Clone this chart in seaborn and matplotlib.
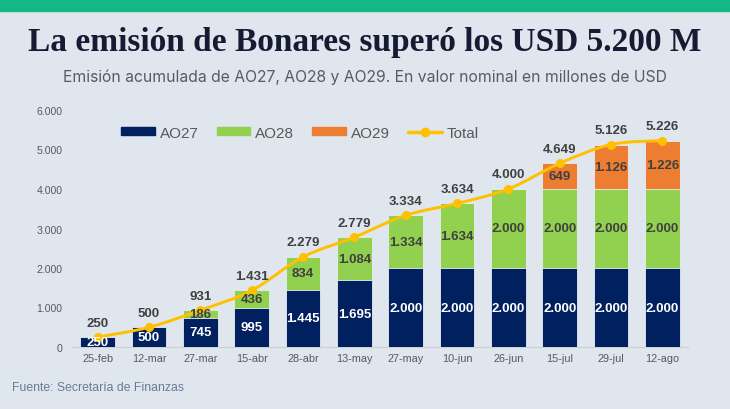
import matplotlib
matplotlib.use("Agg")
import matplotlib.pyplot as plt
import seaborn as sns
import pandas as pd
from matplotlib.patches import Patch, Rectangle, PathPatch
from matplotlib.lines import Line2D
from matplotlib.path import Path

categories = ["25-feb", "12-mar", "27-mar", "15-abr", "28-abr", "13-may",
              "27-may", "10-jun", "26-jun", "15-jul", "29-jul", "12-ago"]
ao27 = [250, 500, 745, 995, 1445, 1695, 2000, 2000, 2000, 2000, 2000, 2000]
ao28 = [0, 0, 186, 436, 834, 1084, 1334, 1634, 2000, 2000, 2000, 2000]
ao29 = [0, 0, 0, 0, 0, 0, 0, 0, 0, 649, 1126, 1226]
yticks = [0, 1000, 2000, 3000, 4000, 5000, 6000]

title = "La emisión de Bonares superó los USD 5.200 M"
subtitle = "Emisión acumulada de AO27, AO28 y AO29. En valor nominal en millones de USD"
source = "Fuente: Secretaría de Finanzas"

C27, C28, C29, CT = "#002060", "#92D050", "#ED7D31", "#FFC000"
BG = "#dfe6ee"
SANS = "Liberation Sans"

df = pd.DataFrame({"fecha": categories, "AO27": ao27, "AO28": ao28, "AO29": ao29})
df["s2"] = df["AO27"] + df["AO28"]
df["Total"] = df["s2"] + df["AO29"]

def fmt(v):
    return f"{v:,}".replace(",", ".")

sns.set_theme(style="white")
plt.rcParams["font.family"] = [SANS, "DejaVu Sans"]

fig = plt.figure(figsize=(7.3, 4.1), dpi=100, facecolor=BG)
fig.patches.append(Rectangle((0, 1 - 12 / 410), 1, 12 / 410, transform=fig.transFigure,
                             color="#13b886", zorder=0))

ax = fig.add_axes([72 / 730, 62 / 410, 616 / 730, 237 / 410])
ax.set_facecolor(BG)

w = 0.68
bar_kw = dict(width=w, saturation=1, ax=ax, edgecolor="#e8eef4", linewidth=0.6)
sns.barplot(data=df, x="fecha", y="Total", color=C29, zorder=2, **bar_kw)
sns.barplot(data=df, x="fecha", y="s2", color=C28, zorder=3, **bar_kw)
sns.barplot(data=df, x="fecha", y="AO27", color=C27, zorder=4, **bar_kw)

# smoothed total line (Bezier through the data points)
xs = list(range(len(categories)))
ys = list(df["Total"])
verts = [(xs[0], ys[0])]
codes = [Path.MOVETO]
n = len(xs)
for i in range(n - 1):
    p0 = (xs[max(i - 1, 0)], ys[max(i - 1, 0)])
    p1 = (xs[i], ys[i])
    p2 = (xs[i + 1], ys[i + 1])
    p3 = (xs[min(i + 2, n - 1)], ys[min(i + 2, n - 1)])
    c1 = (p1[0] + (p2[0] - p0[0]) / 6, p1[1] + (p2[1] - p0[1]) / 6)
    c2 = (p2[0] - (p3[0] - p1[0]) / 6, p2[1] - (p3[1] - p1[1]) / 6)
    verts += [c1, c2, p2]
    codes += [Path.CURVE4] * 3
ax.add_patch(PathPatch(Path(verts, codes), facecolor="none", edgecolor=CT,
                       linewidth=2.1, zorder=6, capstyle="round"))
sns.pointplot(data=df, x="fecha", y="Total", color=CT, markers="o", markersize=4.5,
              linestyle="none", ax=ax, zorder=6.5)

lab_kw = dict(ha="center", va="center", fontsize=9.5, fontweight="bold", zorder=7)
for i in range(len(categories)):
    a, b, c, t = ao27[i], ao28[i], ao29[i], df["Total"][i]
    ax.text(i, a / 2, fmt(a), color="white", **lab_kw)
    if b > 0:
        ax.text(i, a + b / 2, fmt(b), color="#404040", **lab_kw)
    if c > 0:
        ax.text(i, a + b + c / 2, fmt(c), color="#404040", **lab_kw)
    ax.annotate(fmt(t), (i, t), xytext=(0, 10.5), textcoords="offset points",
                color="#404040", **lab_kw)

ax.set_ylim(0, 6000)
ax.set_xlim(-0.5, len(categories) - 0.5)
ax.set_yticks(yticks)
ax.set_yticklabels([fmt(v) for v in yticks])
ax.tick_params(axis="y", labelsize=7.6, colors="#595959", length=0, pad=7)
ax.tick_params(axis="x", labelsize=7.8, colors="#595959", length=0, pad=4)
ax.set_xlabel("")
ax.set_ylabel("")
for s in ["top", "right", "left"]:
    ax.spines[s].set_visible(False)
ax.spines["bottom"].set_color("#d0d0d0")
ax.spines["bottom"].set_linewidth(0.8)

handles = [Patch(color=C27), Patch(color=C28), Patch(color=C29),
           Line2D([], [], color=CT, marker="o", markersize=6, linewidth=2.5)]
leg = ax.legend(handles, ["AO27", "AO28", "AO29", "Total"], loc="center left",
                bbox_to_anchor=(0.058, 0.905), ncol=4, frameon=False,
                fontsize=11, labelcolor="#595959", handlelength=2.2,
                handleheight=0.45, columnspacing=1.2, handletextpad=0.3)

fig.text(0.5, 1 - 42 / 410, title, ha="center", va="center",
         fontsize=24, fontweight="bold", family="Liberation Serif", color="#161b33")
fig.text(0.5, 1 - 77 / 410, subtitle, ha="center", va="center",
         fontsize=11.3, family="Inter", color="#555c66")
fig.text(12 / 730, 1 - 388 / 410, source, ha="left", va="center",
         fontsize=8.8, color="#6a7a95")

fig.savefig("out.png", dpi=100, facecolor=BG)
